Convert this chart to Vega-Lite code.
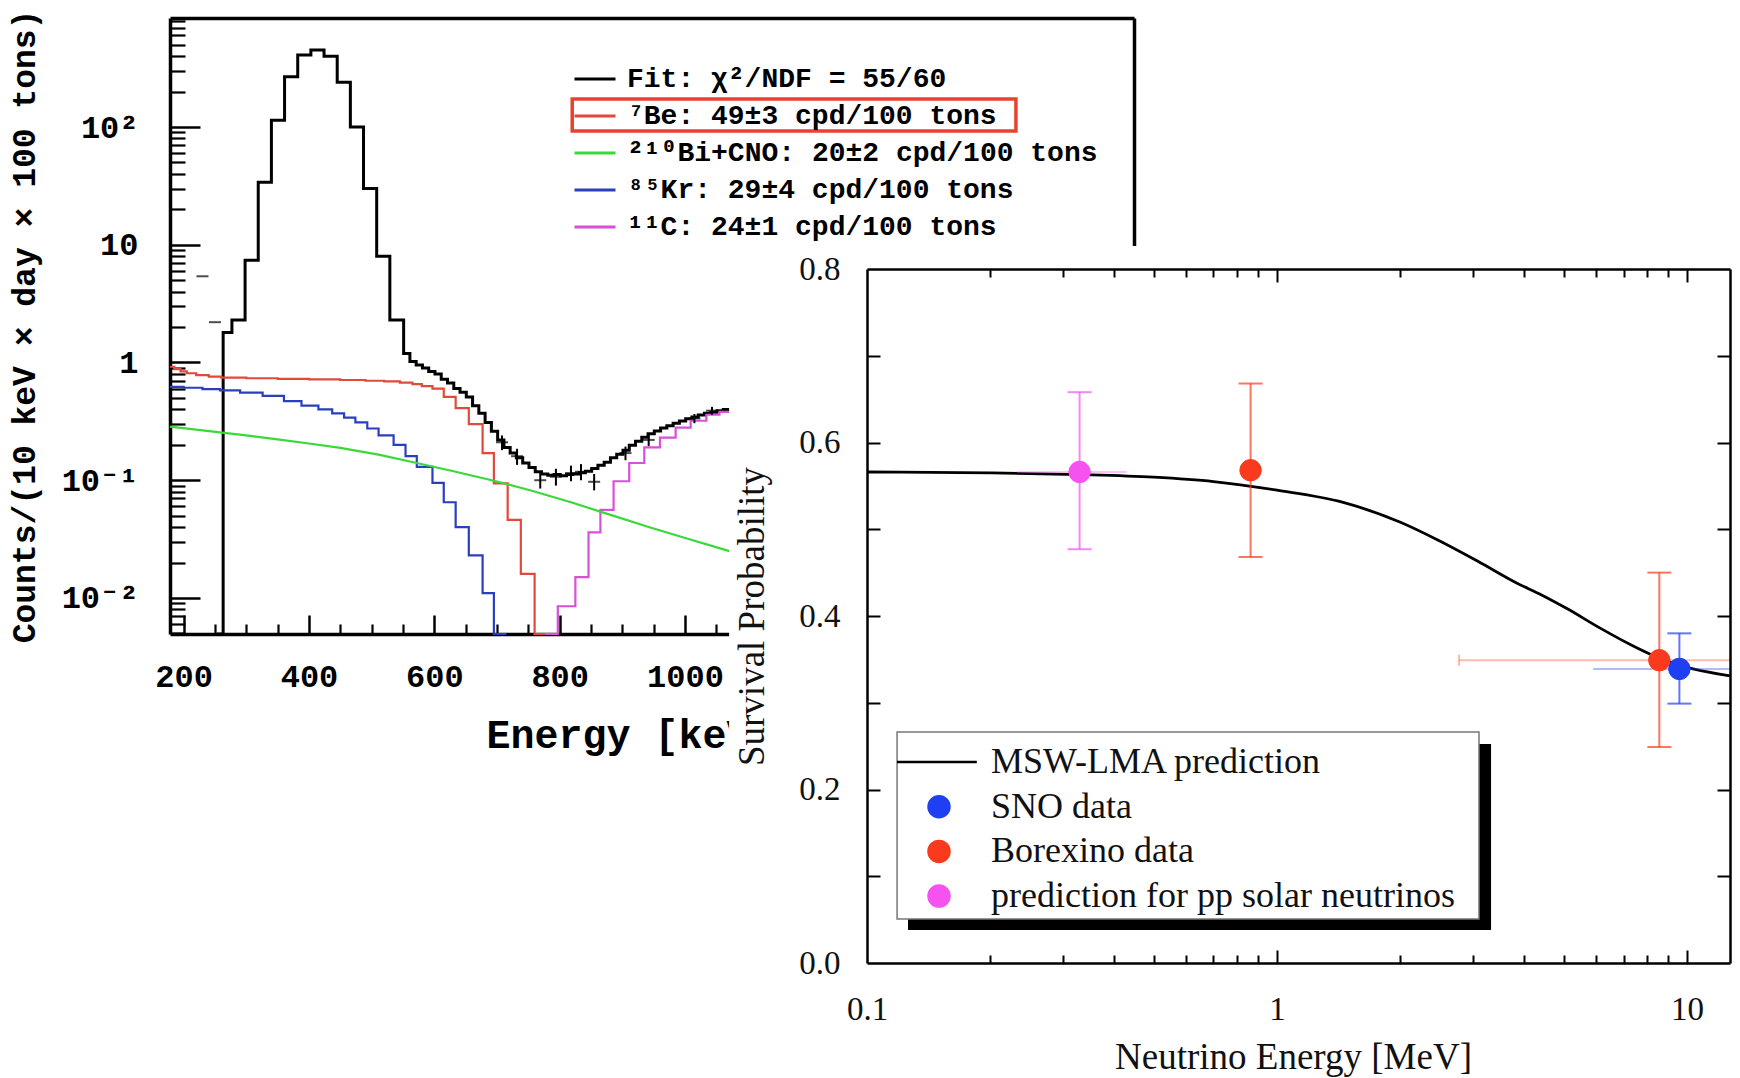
{
"$schema": "https://vega.github.io/schema/vega-lite/v6.json",
"width": 1740, "height": 1078, "autosize": {"type": "none"}, "padding": 0,
"background": "white",
"config": {"view": {"stroke": null}, "axis": {"grid": false}},
"datasets": {
"spec": [
{"s":"fit","E":253,"c":0.00494},{"s":"fit","E":263,"c":1.8},{"s":"fit","E":277,"c":2.3},{"s":"fit","E":298,"c":7.4},{"s":"fit","E":319,"c":34},{"s":"fit","E":340,"c":114},{"s":"fit","E":361,"c":268},{"s":"fit","E":382,"c":409},{"s":"fit","E":403,"c":451},{"s":"fit","E":424,"c":400},{"s":"fit","E":445,"c":240},{"s":"fit","E":466,"c":100},{"s":"fit","E":487,"c":30},{"s":"fit","E":508,"c":8},{"s":"fit","E":529,"c":2.3},{"s":"fit","E":551,"c":1.19},{"s":"fit","E":561,"c":1.02},{"s":"fit","E":571,"c":0.95},{"s":"fit","E":581,"c":0.9},{"s":"fit","E":591,"c":0.84},{"s":"fit","E":601,"c":0.8},{"s":"fit","E":611,"c":0.72},{"s":"fit","E":621,"c":0.67},{"s":"fit","E":631,"c":0.6},{"s":"fit","E":641,"c":0.56},{"s":"fit","E":651,"c":0.51},{"s":"fit","E":661,"c":0.43},{"s":"fit","E":671,"c":0.37},{"s":"fit","E":681,"c":0.31},{"s":"fit","E":691,"c":0.26},{"s":"fit","E":701,"c":0.22},{"s":"fit","E":711,"c":0.19},{"s":"fit","E":721,"c":0.17},{"s":"fit","E":731,"c":0.155},{"s":"fit","E":741,"c":0.14},{"s":"fit","E":751,"c":0.128},{"s":"fit","E":761,"c":0.118},{"s":"fit","E":771,"c":0.113},{"s":"fit","E":781,"c":0.11},{"s":"fit","E":791,"c":0.112},{"s":"fit","E":801,"c":0.109},{"s":"fit","E":811,"c":0.112},{"s":"fit","E":821,"c":0.113},{"s":"fit","E":831,"c":0.116},{"s":"fit","E":841,"c":0.119},{"s":"fit","E":851,"c":0.126},{"s":"fit","E":861,"c":0.134},{"s":"fit","E":871,"c":0.142},{"s":"fit","E":881,"c":0.155},{"s":"fit","E":891,"c":0.166},{"s":"fit","E":901,"c":0.18},{"s":"fit","E":911,"c":0.198},{"s":"fit","E":921,"c":0.214},{"s":"fit","E":931,"c":0.232},{"s":"fit","E":941,"c":0.248},{"s":"fit","E":951,"c":0.262},{"s":"fit","E":961,"c":0.278},{"s":"fit","E":971,"c":0.29},{"s":"fit","E":981,"c":0.305},{"s":"fit","E":991,"c":0.318},{"s":"fit","E":1001,"c":0.332},{"s":"fit","E":1011,"c":0.345},{"s":"fit","E":1021,"c":0.358},{"s":"fit","E":1031,"c":0.37},{"s":"fit","E":1041,"c":0.378},{"s":"fit","E":1051,"c":0.39},{"s":"fit","E":1061,"c":0.398},{"s":"fit","E":1071,"c":0.4},
{"s":"be7","E":178.2,"c":0.92},{"s":"be7","E":185,"c":0.88},{"s":"be7","E":195,"c":0.84},{"s":"be7","E":205,"c":0.81},{"s":"be7","E":220,"c":0.78},{"s":"be7","E":240,"c":0.76},{"s":"be7","E":260,"c":0.745},{"s":"be7","E":300,"c":0.735},{"s":"be7","E":350,"c":0.725},{"s":"be7","E":400,"c":0.72},{"s":"be7","E":450,"c":0.71},{"s":"be7","E":490,"c":0.7},{"s":"be7","E":520,"c":0.69},{"s":"be7","E":545,"c":0.675},{"s":"be7","E":565,"c":0.655},{"s":"be7","E":580,"c":0.63},{"s":"be7","E":597,"c":0.6},{"s":"be7","E":615,"c":0.51},{"s":"be7","E":634,"c":0.41},{"s":"be7","E":655,"c":0.3},{"s":"be7","E":677,"c":0.17},{"s":"be7","E":695,"c":0.094},{"s":"be7","E":717,"c":0.046},{"s":"be7","E":738,"c":0.016},{"s":"be7","E":760,"c":0.00494},{"s":"be7","E":782,"c":0.00494},
{"s":"kr","E":178.2,"c":0.62},{"s":"kr","E":200,"c":0.61},{"s":"kr","E":230,"c":0.595},{"s":"kr","E":258,"c":0.58},{"s":"kr","E":290,"c":0.555},{"s":"kr","E":326,"c":0.52},{"s":"kr","E":360,"c":0.47},{"s":"kr","E":388,"c":0.43},{"s":"kr","E":415,"c":0.4},{"s":"kr","E":437,"c":0.37},{"s":"kr","E":456,"c":0.34},{"s":"kr","E":474,"c":0.31},{"s":"kr","E":493,"c":0.275},{"s":"kr","E":511,"c":0.24},{"s":"kr","E":535,"c":0.2},{"s":"kr","E":554,"c":0.16},{"s":"kr","E":572,"c":0.13},{"s":"kr","E":597,"c":0.095},{"s":"kr","E":615,"c":0.065},{"s":"kr","E":634,"c":0.04},{"s":"kr","E":655,"c":0.023},{"s":"kr","E":677,"c":0.011},{"s":"kr","E":695,"c":0.00494},{"s":"kr","E":715,"c":0.00494},
{"s":"bi","E":178.2,"c":0.285},{"s":"bi","E":258,"c":0.255},{"s":"bi","E":300,"c":0.24},{"s":"bi","E":350,"c":0.222},{"s":"bi","E":400,"c":0.205},{"s":"bi","E":450,"c":0.188},{"s":"bi","E":511,"c":0.165},{"s":"bi","E":572,"c":0.14},{"s":"bi","E":634,"c":0.118},{"s":"bi","E":695,"c":0.099},{"s":"bi","E":757,"c":0.081},{"s":"bi","E":818,"c":0.065},{"s":"bi","E":880,"c":0.051},{"s":"bi","E":942,"c":0.04},{"s":"bi","E":1003,"c":0.032},{"s":"bi","E":1071,"c":0.025},
{"s":"c11","E":777,"c":0.00494},{"s":"c11","E":797,"c":0.0085},{"s":"c11","E":825,"c":0.015},{"s":"c11","E":846,"c":0.036},{"s":"c11","E":865,"c":0.056},{"s":"c11","E":886,"c":0.098},{"s":"c11","E":911,"c":0.14},{"s":"c11","E":935,"c":0.19},{"s":"c11","E":960,"c":0.23},{"s":"c11","E":985,"c":0.28},{"s":"c11","E":1009,"c":0.32},{"s":"c11","E":1034,"c":0.36},{"s":"c11","E":1055,"c":0.38},{"s":"c11","E":1071,"c":0.39}
],
"xdat": [
{"E":230,"c":5.4,"lo":5.4,"hi":5.4},{"E":250,"c":2.2,"lo":2.2,"hi":2.2},
{"E":708,"c":0.21,"lo":0.18,"hi":0.24},{"E":732,"c":0.16,"lo":0.135,"hi":0.185},{"E":769,"c":0.1,"lo":0.085,"hi":0.118},{"E":794,"c":0.107,"lo":0.09,"hi":0.125},{"E":818,"c":0.115,"lo":0.098,"hi":0.133},{"E":834,"c":0.118,"lo":0.1,"hi":0.137},{"E":855,"c":0.097,"lo":0.082,"hi":0.113},{"E":905,"c":0.17,"lo":0.148,"hi":0.193},{"E":942,"c":0.22,"lo":0.195,"hi":0.245},{"E":1015,"c":0.335,"lo":0.305,"hi":0.365},{"E":1043,"c":0.39,"lo":0.36,"hi":0.42}
],
"msw": [
{"E":0.1,"P":0.566},{"E":0.2,"P":0.565},{"E":0.33,"P":0.563},{"E":0.5,"P":0.56},{"E":0.7,"P":0.555},{"E":1.0,"P":0.545},{"E":1.45,"P":0.531},{"E":2.0,"P":0.508},{"E":2.48,"P":0.487},{"E":3.09,"P":0.463},{"E":3.84,"P":0.438},{"E":4.43,"P":0.424},{"E":5.12,"P":0.408},{"E":6.14,"P":0.386},{"E":7.35,"P":0.366},{"E":8.5,"P":0.352},{"E":9.8,"P":0.342},{"E":12.73,"P":0.331}
],
"pts": [
{"s":"pp","E":0.33,"P":0.566,"lo":0.477,"hi":0.658,"xlo":0.232,"xhi":0.43},
{"s":"bx","E":0.862,"P":0.568,"lo":0.468,"hi":0.668},
{"s":"bx","E":8.56,"P":0.349,"lo":0.249,"hi":0.45,"xlo":2.78,"xhi":12.73},
{"s":"sno","E":9.58,"P":0.339,"lo":0.299,"hi":0.38,"xlo":5.9,"xhi":12.73}
]
},
"resolve": {"scale": {"x": "independent", "y": "independent", "fill": "independent", "stroke": "independent", "shape": "independent"}, "axis": {"x": "independent", "y": "independent"}},
"layer": [
{
"data": {"name": "spec"},
"transform": [{"filter": "datum.s == 'fit'"}],
"mark": {"type": "line", "interpolate": "step-after", "strokeWidth": 3},
"encoding": {
"x": {"field": "E", "type": "quantitative", "scale": {"type":"linear","domain":[178.2,1716.4],"range":[170,1134],"nice":false,"zero":false},
 "axis": {"orient":"bottom","offset":-444,"values":[200,400,600,800,1000,1200,1400,1600],"format":"d","ticks":false,"domain":true,"domainColor":"black","domainWidth":3.5,"labelFont":"Liberation Mono, DejaVu Sans Mono, monospace","labelFontWeight":"bold","labelFontSize":32,"labelColor":"black","labelPadding":27,"labelFlush":false,"labelOverlap":false,"labelBound":false,"grid":false,"title":"Energy [keV]","titleFont":"Liberation Mono, DejaVu Sans Mono, monospace","titleFontWeight":"bold","titleFontSize":40,"titleColor":"black","titleX":630,"titleY":101,"titleAlign":"center","titleBaseline":"middle","titleAngle":0,"zindex":0}},
"y": {"field": "c", "type": "quantitative", "scale": {"type":"log","domain":[0.00494,844],"range":[634,18],"nice":false},
 "axis": {"orient":"left","offset":-170,"values":[0.01,0.1,1,10,100],"labelExpr":"datum.value >= 100 ? '10²' : datum.value >= 10 ? '10' : datum.value >= 1 ? '1' : datum.value >= 0.1 ? '10⁻¹' : '10⁻²'","ticks":false,"domain":true,"domainColor":"black","domainWidth":3.5,"labelFont":"Liberation Mono, DejaVu Sans Mono, monospace","labelFontWeight":"bold","labelFontSize":32,"labelColor":"black","labelPadding":32,"labelFlush":false,"labelOverlap":false,"labelBound":false,"grid":false,"title":"Counts/(10 keV × day × 100 tons)","titleFont":"Liberation Mono, DejaVu Sans Mono, monospace","titleFontWeight":"bold","titleFontSize":33,"titleColor":"black","titleX":-146,"titleY":326,"titleAngle":-90,"titleAlign":"center","titleBaseline":"middle","zindex":0}},
"color": {"field": "s", "type": "nominal", "scale": {"domain":["fit","be7","bi","kr","c11"],"range":["#000000","#e04a3a","#3ad93a","#2a3fc0","#d84fd8"]},
 "legend": {"orient":"none","legendX":581,"legendY":65,"title":null,"symbolType":"M-4.1,0H4.1","symbolSize":100,"symbolStrokeWidth":3,"labelFont":"Liberation Mono, DejaVu Sans Mono, monospace","labelFontWeight":"bold","labelFontSize":28,"labelColor":"black","labelLimit":1000,"labelOffset":18,"rowPadding":9,"padding":0,"labelExpr":"datum.value == 'fit' ? 'Fit: χ²/NDF = 55/60' : datum.value == 'be7' ? '⁷Be: 49±3 cpd/100 tons' : datum.value == 'bi' ? '²¹⁰Bi+CNO: 20±2 cpd/100 tons' : datum.value == 'kr' ? '⁸⁵Kr: 29±4 cpd/100 tons' : '¹¹C: 24±1 cpd/100 tons'"}}
}
},
{
"data": {"name": "spec"},
"transform": [{"filter": "datum.s == 'be7' || datum.s == 'kr' || datum.s == 'c11'"}],
"mark": {"type": "line", "interpolate": "step-after", "strokeWidth": 2.2},
"encoding": {
"x": {"field": "E", "type": "quantitative", "scale": {"type":"linear","domain":[178.2,1716.4],"range":[170,1134],"nice":false,"zero":false},
 "axis": {"orient":"top","offset":-634,"values":[200,400,600,800,1000,1200,1400,1600],"labels":false,"domain":false,"ticks":true,"tickSize":19,"tickWidth":2.5,"tickColor":"black","grid":false,"title":null,"zindex":0}},
"y": {"field": "c", "type": "quantitative", "scale": {"type":"log","domain":[0.00494,844],"range":[634,18],"nice":false},
 "axis": {"orient":"right","offset":-1570,"values":[0.01,0.1,1,10,100],"labels":false,"domain":false,"ticks":true,"tickSize":30,"tickWidth":2.5,"tickColor":"black","grid":false,"title":null,"zindex":0}},
"color": {"field": "s", "type": "nominal", "scale": {"domain":["fit","be7","bi","kr","c11"],"range":["#000000","#e04a3a","#3ad93a","#2a3fc0","#d84fd8"]}}
}
},
{
"data": {"name": "spec"},
"transform": [{"filter": "datum.s == 'bi'"}],
"mark": {"type": "line", "strokeWidth": 2.2},
"encoding": {
"x": {"field": "E", "type": "quantitative", "scale": {"type":"linear","domain":[178.2,1716.4],"range":[170,1134],"nice":false,"zero":false},
 "axis": {"orient":"top","offset":-634,"values":[250,300,350,450,500,550,650,700,750,850,900,950,1050,1100,1150,1250,1300,1350,1450,1500,1550,1650,1700],"labels":false,"domain":false,"ticks":true,"tickSize":10,"tickWidth":2.2,"tickColor":"black","grid":false,"title":null,"zindex":0}},
"y": {"field": "c", "type": "quantitative", "scale": {"type":"log","domain":[0.00494,844],"range":[634,18],"nice":false},
 "axis": {"orient":"right","offset":-1570,"values":[0.005,0.006,0.007,0.008,0.009,0.02,0.03,0.04,0.05,0.06,0.07,0.08,0.09,0.2,0.3,0.4,0.5,0.6,0.7,0.8,0.9,2,3,4,5,6,7,8,9,20,30,40,50,60,70,80,90,200,300,400,500,600,700,800],"labels":false,"domain":false,"ticks":true,"tickSize":15,"tickWidth":2.2,"tickColor":"black","grid":false,"title":null,"zindex":0}},
"color": {"field": "s", "type": "nominal", "scale": {"domain":["fit","be7","bi","kr","c11"],"range":["#000000","#e04a3a","#3ad93a","#2a3fc0","#d84fd8"]}}
}
},
{
"data": {"name": "xdat"},
"mark": {"type": "rule", "strokeWidth": 2, "color": "black"},
"encoding": {
"x": {"field": "E", "type": "quantitative", "scale": {"type":"linear","domain":[178.2,1716.4],"range":[170,1134],"nice":false,"zero":false},
 "axis": {"orient":"top","offset":-18,"domain":true,"domainColor":"black","domainWidth":3.5,"ticks":false,"labels":false,"grid":false,"title":null,"zindex":0}},
"y": {"field": "lo", "type": "quantitative", "scale": {"type":"log","domain":[0.00494,844],"range":[634,18],"nice":false},
 "axis": {"orient":"right","offset":-606,"domain":true,"domainColor":"black","domainWidth":3.5,"ticks":false,"labels":false,"grid":false,"title":null,"zindex":0}},
"y2": {"field": "hi"}
}
},
{
"data": {"name": "xdat"},
"mark": {"type": "tick", "orient": "horizontal", "size": 12, "thickness": 2, "color": "black"},
"encoding": {
"x": {"field": "E", "type": "quantitative", "scale": {"type":"linear","domain":[178.2,1716.4],"range":[170,1134],"nice":false,"zero":false}, "axis": null},
"y": {"field": "c", "type": "quantitative", "scale": {"type":"log","domain":[0.00494,844],"range":[634,18],"nice":false}, "axis": null}
}
},
{
"data": {"values": [{}]},
"mark": {"type": "rect", "fillOpacity": 0, "stroke": "#e8412c", "strokeWidth": 3.5},
"encoding": {
"x": {"datum": 820, "type": "quantitative", "scale": {"type":"linear","domain":[178.2,1716.4],"range":[170,1134],"nice":false,"zero":false}, "axis": null},
"x2": {"datum": 1528},
"y": {"datum": 173, "type": "quantitative", "scale": {"type":"log","domain":[0.00494,844],"range":[634,18],"nice":false}, "axis": null},
"y2": {"datum": 92.5}
}
},
{
"data": {"values": [{}]},
"mark": {"type": "rect", "fill": "white", "strokeWidth": 0},
"encoding": {
"x": {"datum": 0.0461, "type": "quantitative", "scale": {"type":"log","domain":[0.1,12.73],"range":[867,1730],"nice":false}, "axis": null},
"x2": {"datum": 30},
"y": {"datum": 0.8265, "type": "quantitative", "scale": {"type":"linear","domain":[0,0.8],"range":[963,269],"nice":false,"zero":false}, "axis": null},
"y2": {"datum": -0.3}
}
},
{
"data": {"name": "msw"},
"mark": {"type": "line", "interpolate": "monotone", "stroke": "black", "strokeWidth": 2.8},
"encoding": {
"x": {"field": "E", "type": "quantitative", "scale": {"type":"log","domain":[0.1,12.73],"range":[867,1730],"nice":false},
 "axis": {"orient":"bottom","offset":-115,"values":[0.1,1,10],"format":"~g","ticks":false,"domain":true,"domainColor":"black","domainWidth":2.5,"labelFont":"Liberation Serif, DejaVu Serif, serif","labelFontSize":33,"labelColor":"#111","labelPadding":30,"labelFlush":false,"labelOverlap":false,"labelBound":false,"grid":false,"title":"Neutrino Energy [MeV]","titleFont":"Liberation Serif, DejaVu Serif, serif","titleFontSize":37,"titleFontWeight":"normal","titleColor":"#111","titleX":1293,"titleY":94,"titleAlign":"center","titleBaseline":"middle","titleAngle":0,"zindex":1}},
"y": {"field": "P", "type": "quantitative", "scale": {"type":"linear","domain":[0,0.8],"range":[963,269],"nice":false,"zero":false},
 "axis": {"orient":"left","offset":-867,"values":[0,0.2,0.4,0.6,0.8],"format":".1f","ticks":false,"domain":true,"domainColor":"black","domainWidth":2.5,"labelFont":"Liberation Serif, DejaVu Serif, serif","labelFontSize":33,"labelColor":"#111","labelPadding":27,"labelFlush":false,"labelOverlap":false,"labelBound":false,"grid":false,"title":"Survival Probability","titleFont":"Liberation Serif, DejaVu Serif, serif","titleFontSize":37,"titleFontWeight":"normal","titleColor":"#111","titleX":-115,"titleY":616,"titleAngle":-90,"titleAlign":"center","titleBaseline":"middle","zindex":1}}
}
},
{
"data": {"name": "pts"},
"transform": [{"filter": "isValid(datum.xlo)"}],
"mark": {"type": "rule", "strokeWidth": 2, "opacity": 0.35},
"encoding": {
"x": {"field": "xlo", "type": "quantitative", "scale": {"type":"log","domain":[0.1,12.73],"range":[867,1730],"nice":false},
 "axis": {"orient":"top","offset":-963,"values":[1,10],"labels":false,"domain":false,"ticks":true,"tickSize":13,"tickWidth":2,"tickColor":"black","grid":false,"title":null,"zindex":1}},
"x2": {"field": "xhi"},
"y": {"field": "P", "type": "quantitative", "scale": {"type":"linear","domain":[0,0.8],"range":[963,269],"nice":false,"zero":false},
 "axis": {"orient":"right","offset":-873,"values":[0.1,0.2,0.3,0.4,0.5,0.6,0.7],"labels":false,"domain":false,"ticks":true,"tickSize":13,"tickWidth":2,"tickColor":"black","grid":false,"title":null,"zindex":1}},
"stroke": {"field": "s", "type": "nominal", "scale": {"domain":["msw","sno","bx","pp"],"range":["#000000","#1f3ff5","#f93a1c","#f552f0"]}, "legend": null}
}
},
{
"data": {"name": "pts"},
"transform": [{"filter": "datum.s == 'bx' && isValid(datum.xlo)"}],
"mark": {"type": "tick", "orient": "vertical", "size": 11, "thickness": 2, "opacity": 0.35},
"encoding": {
"x": {"field": "xlo", "type": "quantitative", "scale": {"type":"log","domain":[0.1,12.73],"range":[867,1730],"nice":false}, "axis": null},
"y": {"field": "P", "type": "quantitative", "scale": {"type":"linear","domain":[0,0.8],"range":[963,269],"nice":false,"zero":false}, "axis": null},
"fill": {"field": "s", "type": "nominal", "scale": {"domain":["msw","sno","bx","pp"],"range":["#000000","#1f3ff5","#f93a1c","#f552f0"]}, "legend": null}
}
},
{
"data": {"name": "pts"},
"mark": {"type": "rule", "strokeWidth": 2, "opacity": 0.7},
"encoding": {
"x": {"field": "E", "type": "quantitative", "scale": {"type":"log","domain":[0.1,12.73],"range":[867,1730],"nice":false},
 "axis": {"orient":"top","offset":-963,"values":[0.2,0.3,0.4,0.5,0.6,0.7,0.8,0.9,2,3,4,5,6,7,8,9],"labels":false,"domain":false,"ticks":true,"tickSize":8,"tickWidth":2,"tickColor":"black","grid":false,"title":null,"zindex":1}},
"y": {"field": "lo", "type": "quantitative", "scale": {"type":"linear","domain":[0,0.8],"range":[963,269],"nice":false,"zero":false},
 "axis": {"orient":"left","offset":-1730,"values":[0.1,0.2,0.3,0.4,0.5,0.6,0.7],"labels":false,"domain":true,"domainColor":"black","domainWidth":2.5,"ticks":true,"tickSize":13,"tickWidth":2,"tickColor":"black","grid":false,"title":null,"zindex":1}},
"y2": {"field": "hi"},
"stroke": {"field": "s", "type": "nominal", "scale": {"domain":["msw","sno","bx","pp"],"range":["#000000","#1f3ff5","#f93a1c","#f552f0"]}, "legend": null}
}
},
{
"data": {"name": "pts"},
"mark": {"type": "tick", "orient": "horizontal", "size": 24, "thickness": 2, "opacity": 0.7},
"encoding": {
"x": {"field": "E", "type": "quantitative", "scale": {"type":"log","domain":[0.1,12.73],"range":[867,1730],"nice":false},
 "axis": {"orient":"bottom","offset":-809,"values":[1,10],"labels":false,"domain":true,"domainColor":"black","domainWidth":2.5,"ticks":true,"tickSize":13,"tickWidth":2,"tickColor":"black","grid":false,"title":null,"zindex":1}},
"y": {"field": "lo", "type": "quantitative", "scale": {"type":"linear","domain":[0,0.8],"range":[963,269],"nice":false,"zero":false}, "axis": null},
"fill": {"field": "s", "type": "nominal", "scale": {"domain":["msw","sno","bx","pp"],"range":["#000000","#1f3ff5","#f93a1c","#f552f0"]}, "legend": null}
}
},
{
"data": {"name": "pts"},
"mark": {"type": "tick", "orient": "horizontal", "size": 24, "thickness": 2, "opacity": 0.7},
"encoding": {
"x": {"field": "E", "type": "quantitative", "scale": {"type":"log","domain":[0.1,12.73],"range":[867,1730],"nice":false},
 "axis": {"orient":"bottom","offset":-809,"values":[0.2,0.3,0.4,0.5,0.6,0.7,0.8,0.9,2,3,4,5,6,7,8,9],"labels":false,"domain":false,"ticks":true,"tickSize":8,"tickWidth":2,"tickColor":"black","grid":false,"title":null,"zindex":1}},
"y": {"field": "hi", "type": "quantitative", "scale": {"type":"linear","domain":[0,0.8],"range":[963,269],"nice":false,"zero":false}, "axis": null},
"fill": {"field": "s", "type": "nominal", "scale": {"domain":["msw","sno","bx","pp"],"range":["#000000","#1f3ff5","#f93a1c","#f552f0"]}, "legend": null}
}
},
{
"data": {"values": [{}]},
"mark": {"type": "rect", "fill": "black", "strokeWidth": 0},
"encoding": {
"x": {"datum": 0.1259, "type": "quantitative", "scale": {"type":"log","domain":[0.1,12.73],"range":[867,1730],"nice":false}, "axis": null},
"x2": {"datum": 3.327},
"y": {"datum": 0.2524, "type": "quantitative", "scale": {"type":"linear","domain":[0,0.8],"range":[963,269],"nice":false,"zero":false}, "axis": null},
"y2": {"datum": 0.038}
}
},
{
"data": {"values": [{}]},
"mark": {"type": "rect", "fill": "white", "stroke": "#777777", "strokeWidth": 1.5},
"encoding": {
"x": {"datum": 0.1184, "type": "quantitative", "scale": {"type":"log","domain":[0.1,12.73],"range":[867,1730],"nice":false}, "axis": null},
"x2": {"datum": 3.109},
"y": {"datum": 0.2663, "type": "quantitative", "scale": {"type":"linear","domain":[0,0.8],"range":[963,269],"nice":false,"zero":false}, "axis": null},
"y2": {"datum": 0.0507}
}
},
{
"data": {"name": "pts"},
"mark": {"type": "point", "filled": true, "size": 460, "strokeWidth": 1, "opacity": 1},
"encoding": {
"x": {"field": "E", "type": "quantitative", "scale": {"type":"log","domain":[0.1,12.73],"range":[867,1730],"nice":false}, "axis": null},
"y": {"field": "P", "type": "quantitative", "scale": {"type":"linear","domain":[0,0.8],"range":[963,269],"nice":false,"zero":false}, "axis": null},
"fill": {"field": "s", "type": "nominal", "scale": {"domain":["msw","sno","bx","pp"],"range":["#000000","#1f3ff5","#f93a1c","#f552f0"]},
 "legend": {"orient":"none","legendX":921,"legendY":744,"title":null,"symbolSize":441,"symbolStrokeWidth":2.5,"labelFont":"Liberation Serif, DejaVu Serif, serif","labelFontSize":36,"labelColor":"#111","labelLimit":1000,"labelOffset":34,"rowPadding":8.7,"padding":0,"labelExpr":"datum.value == 'msw' ? 'MSW-LMA prediction' : datum.value == 'sno' ? 'SNO data' : datum.value == 'bx' ? 'Borexino data' : 'prediction for pp solar neutrinos'"}},
"stroke": {"field": "s", "type": "nominal", "scale": {"domain":["msw","sno","bx","pp"],"range":["#000000","#1f3ff5","#f93a1c","#f552f0"]}},
"shape": {"field": "s", "type": "nominal", "scale": {"domain":["msw","sno","bx","pp"],"range":["M-4,0H3.6","circle","circle","circle"]}}
}
}
]
}
